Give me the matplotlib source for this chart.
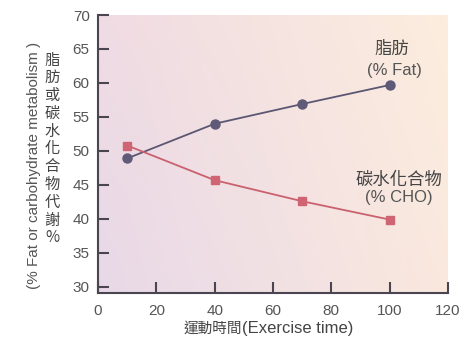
import numpy as np
import matplotlib
matplotlib.use("Agg")
import matplotlib.pyplot as plt

time_fat = [10, 40, 70, 100]
fat_pct = [48.9, 54.0, 56.9, 59.7]
time_cho = [10, 40, 70, 100]
cho_pct = [50.8, 45.7, 42.6, 39.9]
xticks = [0, 20, 40, 60, 80, 100, 120]
yticks = [30, 35, 40, 45, 50, 55, 60, 65, 70]

plt.rcParams['font.family'] = ['Liberation Sans', 'Noto Sans CJK TC', 'DejaVu Sans']
cjk = ['Noto Sans CJK TC', 'Liberation Sans', 'DejaVu Sans']

fig = plt.figure(figsize=(4.75, 3.44), dpi=100)
ax = fig.add_axes([98/475, 1-293/344, 350/475, 278/344])

# background gradient
nx, ny = 200, 100
xx = np.linspace(0, 1, nx)[None, :, None]
yy = np.linspace(0, 1, ny)[:, None, None]
left_bot = np.array([0.91, 0.85, 0.91])
left_top = np.array([0.94, 0.86, 0.89])
right_bot = np.array([0.98, 0.91, 0.87])
right_top = np.array([0.99, 0.93, 0.87])
img = (left_bot * (1-xx) * (1-yy) + right_bot * xx * (1-yy)
       + left_top * (1-xx) * yy + right_top * xx * yy)
ax.imshow(img, extent=[0, 120, 29.1, 70], origin='lower', aspect='auto', zorder=0)

fat_c = '#5b5672'
cho_c = '#c9616e'
ax.plot(time_fat, fat_pct, color=fat_c, lw=1.3, marker='o', ms=6.5, mfc='#5f5a78', mec='#5f5a78', zorder=3)
ax.plot(time_cho, cho_pct, color=cho_c, lw=1.3, marker='s', ms=6, mfc='#cf6572', mec='#cf6572', zorder=3)

ax.set_xlim(0, 120)
ax.set_ylim(29.1, 70)
ax.set_xticks(xticks)
ax.set_yticks(yticks)
for s in ['top', 'right']:
    ax.spines[s].set_visible(False)
for s in ['left', 'bottom']:
    ax.spines[s].set_color('#4a4550')
    ax.spines[s].set_linewidth(1.5)
ax.tick_params(direction='in', length=8, width=1.5, color='#4a4550', labelcolor='#555555', labelsize=11)
ax.tick_params(axis='x', pad=8)
ax.tick_params(axis='y', pad=6)

ax.text(100.8, 65.0, '脂肪', ha='center', va='center', fontsize=12.5, color='#444444', family=cjk)
ax.text(101.5, 61.9, '(% Fat)', ha='center', va='center', fontsize=12, color='#555555')
ax.text(103.2, 45.8, '碳水化合物', ha='center', va='center', fontsize=12.5, color='#444444', family=cjk)
ax.text(103.2, 43.1, '(% CHO)', ha='center', va='center', fontsize=12, color='#555555')

fig.text(34/475, 1-165/344, '(% Fat or carbohydrate metabolism )', rotation=90, ha='center', va='center',
         fontsize=11, color='#555555')
fig.text(52/475, 1-149/344, '\n'.join('脂肪或碳水化合物代謝%'), ha='center', va='center',
         fontsize=11, color='#444444', family=cjk, linespacing=1.06)
fig.text(184/475, 1-333/344, '運動時間', ha='left', va='baseline',
         fontsize=10.5, color='#444444', family=cjk)
fig.text(242/475, 1-333/344, '(Exercise time)', ha='left', va='baseline',
         fontsize=12, color='#444444')

fig.savefig('out.png', dpi=100, facecolor='white')
